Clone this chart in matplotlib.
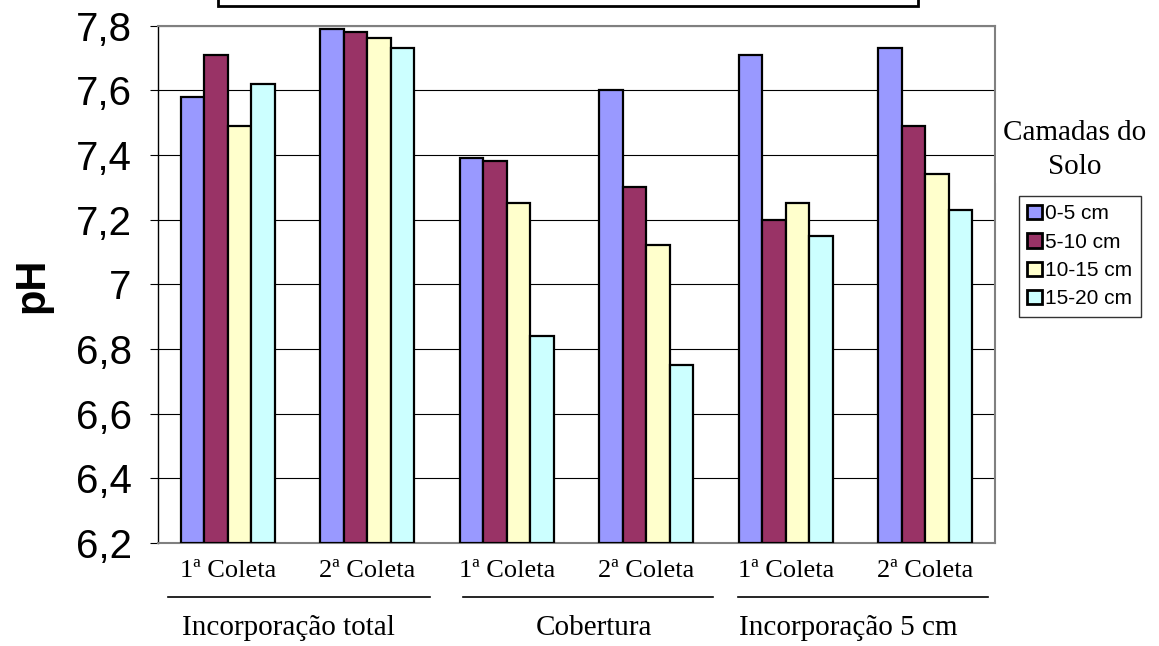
import matplotlib.pyplot as plt
import matplotlib.patches as mpatches
import numpy as np

# categories and pH values
coletas = ['1ª Coleta', '2ª Coleta', '1ª Coleta', '2ª Coleta', '1ª Coleta', '2ª Coleta']
grupos = ['Incorporação total', 'Cobertura', 'Incorporação 5 cm']
camadas = ['0-5 cm', '5-10 cm', '10-15 cm', '15-20 cm']
ph_0_5 = [7.58, 7.79, 7.39, 7.60, 7.71, 7.73]
ph_5_10 = [7.71, 7.78, 7.38, 7.30, 7.20, 7.49]
ph_10_15 = [7.49, 7.76, 7.25, 7.12, 7.25, 7.34]
ph_15_20 = [7.62, 7.73, 6.84, 6.75, 7.15, 7.23]
cores = ['#9999FF', '#993366', '#FFFFCC', '#CCFFFF']

fig = plt.figure(figsize=(11.59, 6.46), dpi=100)
ax = fig.add_axes([158 / 1159, 1 - 543 / 646, (995 - 158) / 1159, (543 - 25.5) / 646])

x = np.arange(len(coletas))
w = 0.168
series = [ph_0_5, ph_5_10, ph_10_15, ph_15_20]
for i, vals in enumerate(series):
    ax.bar(x + (i - 1.5) * w, np.array(vals) - 6.2, w, bottom=6.2, color=cores[i],
           edgecolor='black', linewidth=1.6, label=camadas[i], zorder=3)

ax.set_xlim(-0.5, len(coletas) - 0.5)
ax.set_ylim(6.2, 7.8)
yt = np.arange(6.2, 7.81, 0.2)
ax.set_yticks(yt)
ax.set_yticklabels(['7' if abs(v - 7) < 1e-6 else f'{v:.1f}'.replace('.', ',') for v in yt],
                   fontsize=29, fontfamily='Liberation Sans')
ax.yaxis.grid(True, color='black', linewidth=0.8, zorder=0)
ax.tick_params(axis='y', length=6, width=0.8, pad=13)
ax.set_xticks(x)
ax.set_xticklabels(coletas, fontsize=19, fontfamily='Liberation Serif')
ax.tick_params(axis='x', length=0, pad=12)

# y label placed by hand so it stays inside the figure
fig.text(32 / 1159, 1 - 285 / 646, 'pH', rotation=90, ha='center', va='center', fontsize=30,
         fontweight='bold', fontfamily='Liberation Sans')

for s in ['top', 'right', 'bottom']:
    ax.spines[s].set_color('#808080')
    ax.spines[s].set_linewidth(1.5)
ax.spines['left'].set_color('black')
ax.spines['left'].set_linewidth(1.0)

# group labels with lines
linhas = [(168, 430), (463, 713), (738, 988)]
centros = [288, 594, 848]
for (a, b), c, g in zip(linhas, centros, grupos):
    fig.add_artist(plt.Line2D([a / 1159, b / 1159], [1 - 597 / 646] * 2, color='black', linewidth=1.2))
    fig.text(c / 1159, 1 - 628 / 646, g, ha='center', va='center', fontsize=21,
             fontfamily='Liberation Serif')

# title box cut off at top
fig.add_artist(mpatches.Rectangle((218 / 1159, 1 - 6 / 646), (918 - 218) / 1159, 0.05,
                                  facecolor='white', edgecolor='black', linewidth=2,
                                  transform=fig.transFigure))

# legend title covering the frame
fig.add_artist(mpatches.Rectangle((996 / 1159, 1 - 183 / 646), 6 / 1159, 73 / 646,
                                  facecolor='white', edgecolor='none', transform=fig.transFigure,
                                  zorder=10))
fig.text(1075 / 1159, 1 - 150 / 646, 'Camadas do\nSolo', ha='center', va='center', fontsize=21,
         fontfamily='Liberation Serif', linespacing=1.35)

leg = fig.legend(loc='upper left', bbox_to_anchor=(1019 / 1159, 1 - 196 / 646),
                 prop={'family': 'Liberation Sans', 'size': 15}, frameon=True, fancybox=False,
                 handlelength=0.7, handleheight=0.7, handletextpad=0.15, borderpad=0.4,
                 labelspacing=0.45, borderaxespad=0)
leg.get_frame().set_edgecolor('black')
leg.get_frame().set_linewidth(1.0)
for h in leg.legend_handles:
    h.set_linewidth(2)

fig.savefig('out.png', dpi=100)
